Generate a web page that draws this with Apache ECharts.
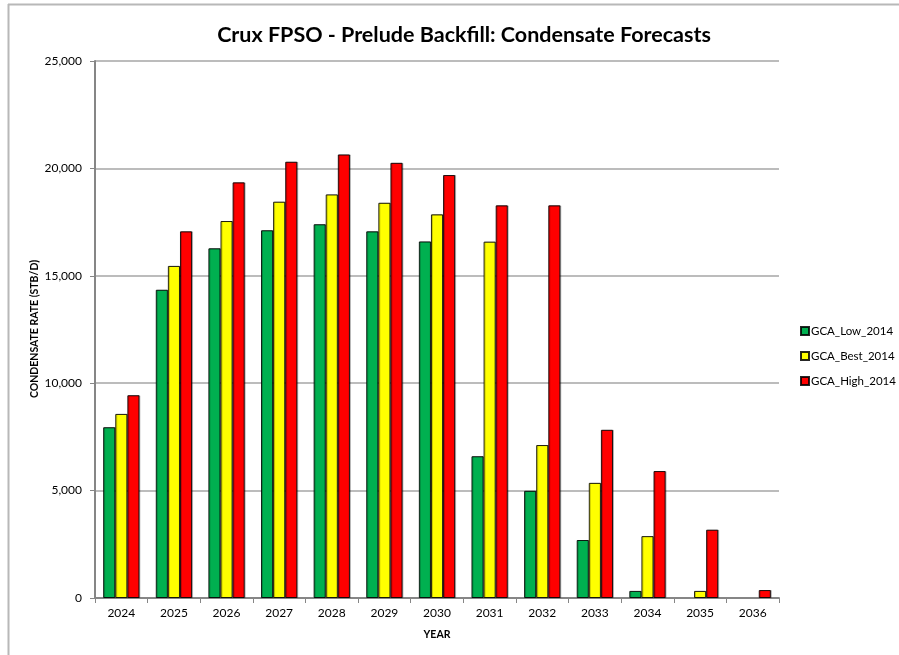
<!DOCTYPE html>
<html>
<head>
<meta charset="utf-8">
<script src="https://cdn.jsdelivr.net/npm/echarts@6/dist/echarts.min.js"></script>
<style>
  html, body { margin: 0; padding: 0; background: #fff; }
  #chart { width: 899px; height: 655px; }
</style>
</head>
<body>
<div id="chart"></div>
<script>
(function() {
  const years = ['2024','2025','2026','2027','2028','2029','2030','2031','2032','2033','2034','2035','2036'];
  const low = [7950,14350,16280,17120,17400,17070,16600,6600,4990,2700,330,0,0];
  const best = [8570,15460,17550,18450,18790,18400,17860,16590,7120,5360,2880,330,0];
  const high = [9440,17070,19350,20310,20650,20260,19690,18280,18280,7830,5910,3180,370];

  const chart = echarts.init(document.getElementById('chart'));

  // zero rates: no bar at all (Excel draws nothing there)
  const bars = (arr) => arr.map(v => (v === 0 ? '-' : v));

  const barStyle = (color) => ({
    color: color,
    borderColor: 'rgba(0,0,0,0.85)',
    borderWidth: 1,
    shadowColor: 'rgba(0,0,0,0.25)',
    shadowOffsetX: 1,
    shadowOffsetY: 0,
    shadowBlur: 0
  });

  const option = {
    animation: false,
    textStyle: { fontFamily: 'Lato' },
    title: {
      text: 'Crux FPSO - Prelude Backfill: Condensate Forecasts',
      left: 459,
      top: 19,
      textAlign: 'center',
      textStyle: { fontSize: 21.5, fontWeight: 'bold', color: '#000', fontFamily: 'Lato' }
    },
    legend: {
      orient: 'vertical',
      left: 795,
      top: 320,
      itemWidth: 8,
      itemHeight: 8,
      itemGap: 13,
      icon: 'rect',
      textStyle: { fontSize: 11.5, color: '#000', fontFamily: 'Lato', padding: [0, 0, 0, -3] },
      data: ['GCA_Low_2014', 'GCA_Best_2014', 'GCA_High_2014']
    },
    graphic: [
      { type: 'line', shape: { x1: 8, y1: 4.5, x2: 899, y2: 4.5 }, style: { stroke: '#b8b8b8', lineWidth: 2 } },
      { type: 'line', shape: { x1: 8.5, y1: 4, x2: 8.5, y2: 655 }, style: { stroke: '#b8b8b8', lineWidth: 2 } },
      // y axis title (placed by hand so the label-overlap logic doesn't push it out)
      {
        type: 'text',
        x: 35,
        y: 329,
        rotation: Math.PI / 2,
        style: {
          text: 'CONDENSATE RATE (STB/D)',
          align: 'center',
          verticalAlign: 'middle',
          font: 'bold 10.5px Lato',
          fill: '#000'
        }
      }
    ],
    grid: { left: 95, right: 120, top: 61, bottom: 57 },
    xAxis: {
      type: 'category',
      data: years,
      name: 'YEAR',
      nameLocation: 'middle',
      nameGap: 31,
      nameTextStyle: { fontSize: 10.5, fontWeight: 'bold', color: '#000', fontFamily: 'Lato' },
      axisLine: { lineStyle: { color: '#868686', width: 2 } },
      axisTick: { show: true, length: 5, lineStyle: { color: '#868686' } },
      axisLabel: { fontSize: 12, color: '#000', margin: 9 }
    },
    yAxis: {
      type: 'value',
      min: 0,
      max: 25000,
      interval: 5000,
      axisLine: { show: true, lineStyle: { color: '#868686', width: 2 } },
      axisTick: { show: true, length: 5, lineStyle: { color: '#868686' } },
      axisLabel: {
        fontSize: 12,
        color: '#000',
        margin: 13,
        formatter: (v) => v.toLocaleString('en-US')
      },
      splitLine: { show: true, lineStyle: { color: '#a6a6a6', width: 1.5 } }
    },
    series: [
      { name: 'GCA_Low_2014', type: 'bar', data: bars(low), barGap: '0%', barCategoryGap: '31%', itemStyle: barStyle('#00b050') },
      { name: 'GCA_Best_2014', type: 'bar', data: bars(best), barGap: '0%', barCategoryGap: '31%', itemStyle: barStyle('#ffff00') },
      { name: 'GCA_High_2014', type: 'bar', data: bars(high), barGap: '0%', barCategoryGap: '31%', itemStyle: barStyle('#ff0000') }
    ]
  };

  chart.setOption(option);
  window.addEventListener('resize', () => chart.resize());
})();
</script>
</body>
</html>
